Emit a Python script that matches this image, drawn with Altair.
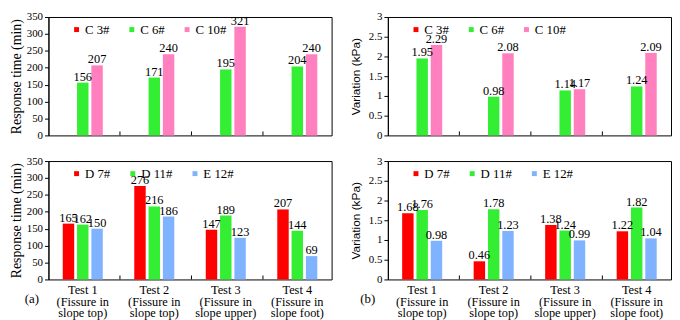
import altair as alt
import pandas as pd

tests = ["Test 1|(Fissure in|slope top)", "Test 2|(Fissure in|slope top)",
         "Test 3|(Fissure in|slope upper)", "Test 4|(Fissure in|slope foot)"]

c_series = ["C 3#", "C 6#", "C 10#"]
c_colors = ["#FF0000", "#33EE33", "#FF7FBF"]
c6_time = [156, 171, 195, 204]
c10_time = [207, 240, 321, 240]
c6_var = [1.95, 0.98, 1.14, 1.24]
c10_var = [2.29, 2.08, 1.17, 2.09]

d_series = ["D 7#", "D 11#", "E 12#"]
d_colors = ["#FF0000", "#33EE33", "#80B3FF"]
d7_time = [165, 276, 147, 207]
d11_time = [162, 216, 189, 144]
e12_time = [150, 186, 123, 69]
d7_var = [1.68, 0.46, 1.38, 1.22]
d11_var = [1.76, 1.78, 1.24, 1.82]
e12_var = [0.98, 1.23, 0.99, 1.04]

SERIF = "Liberation Serif, Times New Roman, DejaVu Serif, serif"
SANS = "Liberation Sans, Arial, DejaVu Sans, sans-serif"
W, H = 287, 120


def slot_domain(series):
    dom = []
    for t in tests:
        dom.append(t + "::gapL")
        dom.extend(t + "::" + s for s in series)
        dom.append(t + "::gapR")
    return dom


def frame(series_vals):
    rows = []
    for name, vals in series_vals:
        for t, v in zip(tests, vals):
            rows.append({"slot": t + "::" + name, "series": name, "value": v})
    return pd.DataFrame(rows)


def panel(df, series, colors, ymax, ystep, ytitle, fmt, show_x, title_font, title_size, title_pad, tag=None, tag_x=-24):
    dom = slot_domain(series)
    xscale = alt.Scale(type="band", domain=dom, paddingInner=0.2, paddingOuter=0)
    if show_x:
        xaxis = alt.Axis(title=None, ticks=False, domain=False,
                         values=[t + "::" + series[1] for t in tests],
                         labelExpr="split(split(datum.label, '::')[0], '|')", labelFont=SERIF,
                         labelFontSize=12.5, labelColor="black", labelPadding=4,
                         labelBaseline="top",
                         labelAngle=0, labelLineHeight=12)
    else:
        xaxis = None
    yaxis = alt.Axis(title=ytitle, values=[i * ystep for i in range(int(round(ymax / ystep)) + 1)],
                     format=".1~f", grid=False, labelFont=SERIF, labelFontSize=11,
                     labelColor="black", tickSize=4, tickColor="black", domainColor="black",
                     titleFont=title_font, titleFontSize=title_size, titleFontWeight="normal",
                     titleColor="black", titlePadding=title_pad, labelPadding=2)
    yscale = alt.Scale(domain=[0, ymax], nice=False)
    base = alt.Chart(df).encode(
        x=alt.X("slot:N", scale=xscale, axis=xaxis, sort=dom),
        y=alt.Y("value:Q", scale=yscale, axis=yaxis),
    )
    bars = base.mark_bar().encode(
        color=alt.Color("series:N", scale=alt.Scale(domain=series, range=colors),
                        legend=alt.Legend(title=None, orient="none", legendX=22, legendY=6,
                                          direction="horizontal", symbolType="square",
                                          symbolSize=25, labelFont=SERIF, labelFontSize=13,
                                          labelColor="black", columnPadding=16, padding=0,
                                          symbolStrokeWidth=0, labelOffset=2))
    )
    text = base.mark_text(baseline="alphabetic", dy=-2, font=SERIF, fontSize=12.5, color="black").encode(
        text=alt.Text("value:Q", format=fmt)
    )
    tick_df = pd.DataFrame({"slot": [t + "::gapL" for t in tests[1:]]})
    ticks = alt.Chart(tick_df).mark_rule(color="black", strokeWidth=1).encode(
        x=alt.X("slot:N", scale=xscale, sort=dom, bandPosition=0, axis=xaxis),
        y=alt.value(H), y2=alt.value(H - 4),
    )
    layers = [bars, text, ticks]
    if tag:
        tag_df = pd.DataFrame({"t": [tag]})
        layers.append(alt.Chart(tag_df).mark_text(font=SERIF, fontSize=13, color="black", align="left",
                                                  baseline="middle").encode(
            text="t:N", x=alt.value(tag_x), y=alt.value(H + 20)))
    return alt.layer(*layers).properties(width=W, height=H)


tl = panel(frame([("C 6#", c6_time), ("C 10#", c10_time)]), c_series, c_colors,
           350, 50, "Response time (min)", "d", False, SERIF, 14, 3)
bl = panel(frame([("D 7#", d7_time), ("D 11#", d11_time), ("E 12#", e12_time)]), d_series, d_colors,
           350, 50, "Response time (min)", "d", True, SERIF, 14, 3, "(a)", -24)
tr = panel(frame([("C 6#", c6_var), ("C 10#", c10_var)]), c_series, c_colors,
           3, 0.5, "Variation (kPa)", ".2f", False, SANS, 12, 6)
br = panel(frame([("D 7#", d7_var), ("D 11#", d11_var), ("E 12#", e12_var)]), d_series, d_colors,
           3, 0.5, "Variation (kPa)", ".2f", True, SANS, 12, 6, "(b)", -28)

left = alt.vconcat(tl, bl, spacing=13).resolve_scale(color="independent", x="independent")
right = alt.vconcat(tr, br, spacing=13).resolve_scale(color="independent", x="independent")
chart = alt.hconcat(left, right, spacing=16).resolve_scale(
    color="independent", x="independent"
).properties(padding=0, background="white").configure_view(
    stroke="black", strokeWidth=1
)

chart.save("out.html", embed_options={"renderer": "svg", "actions": False})
